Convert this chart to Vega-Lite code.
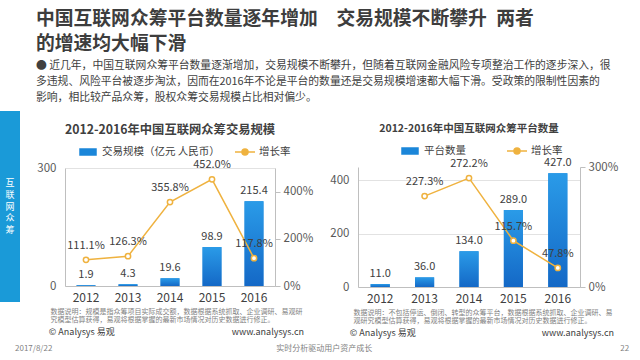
{
  "$schema": "https://vega.github.io/schema/vega-lite/v6.json",
  "background": "white",
  "padding": {"left": 0, "top": 10, "right": 0, "bottom": 0},
  "config": {
    "font": "Noto Sans CJK SC",
    "view": {"stroke": null},
    "axis": {"labelFont": "Noto Sans CJK SC", "titleFont": "Noto Sans CJK SC"},
    "legend": {"labelFont": "Noto Sans CJK SC"}
  },
  "title": {
    "text": ["中国互联网众筹平台数量逐年增加　交易规模不断攀升\u2002两者", "的增速均大幅下滑"],
    "subtitle": [
      "● 近几年，中国互联网众筹平台数量逐渐增加，交易规模不断攀升，但随着互联网金融风险专项整治工作的逐步深入，很",
      "　 多违规、风险平台被逐步淘汰，因而在2016年不论是平台的数量还是交易规模增速都大幅下滑。受政策的限制性因素的",
      "　 影响，相比较产品众筹，股权众筹交易规模占比相对偏少。"
    ],
    "anchor": "start",
    "dx": 36,
    "fontSize": 18.8,
    "fontWeight": "bold",
    "color": "#3d3d3d",
    "lineHeight": 25,
    "subtitleFontSize": 10.8,
    "subtitleColor": "#404040",
    "subtitleLineHeight": 16,
    "subtitlePadding": 6,
    "offset": 8
  },
  "vconcat": [
    {
      "title": {
        "text": "2017/8/22　　　　　　　　　　　　　　　　　　　　　　　　　　　　实时分析驱动用户资产成长　　　　　　　　　　　　　　　　　　　　　　　　　　　　　　　22",
        "orient": "bottom", "anchor": "start", "dx": 15, "fontSize": 8, "fontWeight": "normal", "color": "#7f7f7f", "offset": 7
      },
      "spacing": 16,
      "resolve": {"scale": {"color": "independent"}, "legend": {"color": "independent"}},
      "hconcat": [
        {
          "width": 20,
          "height": 191,
          "view": {"fill": "#1a9ad8", "stroke": null},
          "data": {"values": [
            {"c": "互", "i": 1}, {"c": "联", "i": 2}, {"c": "网", "i": 3}, {"c": "众", "i": 4}, {"c": "筹", "i": 5}
          ]},
          "mark": {"type": "text", "color": "white", "fontSize": 9, "baseline": "middle"},
          "encoding": {
            "y": {"field": "i", "type": "quantitative", "axis": null, "scale": {"domain": [-4.96, 10.96], "reverse": true, "nice": false, "zero": false}},
            "text": {"field": "c", "type": "nominal"}
          }
        },
        {
          "title": {
            "text": "© Analysys 易观　　　　　　　　　　　　　www.analysys.cn",
            "orient": "bottom", "anchor": "start", "dx": 12, "fontSize": 9, "fontWeight": "normal", "color": "#404040", "offset": 5
          },
          "spacing": 12,
          "vconcat": [
            {
              "width": 1, "height": 1,
              "data": {"values": []},
              "mark": {"type": "point"},
              "encoding": {}
            },
            {
              "width": 210,
              "height": 118,
              "title": {"text": "2012-2016年中国互联网众筹交易规模", "fontSize": 12.3, "fontWeight": "bold", "color": "#404040", "offset": 23},
              "data": {"values": [
                {"year": "2012", "v": 1.9, "g": 1.111},
                {"year": "2013", "v": 4.3, "g": 1.263},
                {"year": "2014", "v": 19.6, "g": 3.558},
                {"year": "2015", "v": 98.9, "g": 4.52},
                {"year": "2016", "v": 215.4, "g": 1.178}
              ]},
              "encoding": {
                "x": {
                  "field": "year", "type": "ordinal",
                  "scale": {"paddingInner": 0, "paddingOuter": 0},
                  "axis": {
                    "title": ["数据说明：规模是指众筹项目实际成交额，数据根据系统抓取、企业调研、易观研", "究模型估算获得，易观将根据掌握的最新市场情况对历史数据进行修正。"],
                    "labelAngle": 0, "labelFontSize": 12, "labelColor": "#404040", "labelPadding": 6,
                    "ticks": false, "domainColor": "#bfbfbf",
                    "titleFontSize": 7, "titleFontWeight": "normal", "titleColor": "#7f7f7f",
                    "titleAlign": "left", "titleAnchor": "start", "titleX": -15, "titleY": 21, "titleBaseline": "top", "titleLineHeight": 8.5
                  }
                }
              },
              "layer": [
                {
                  "layer": [
                    {
                      "mark": {"type": "bar", "width": {"band": 0.45}},
                      "encoding": {
                        "y": {"field": "v", "type": "quantitative", "scale": {"domain": [0, 300]},
                          "axis": {"values": [0, 100, 200, 300], "title": null, "grid": true, "gridColor": "#e2e2e2", "domainColor": "#bfbfbf", "ticks": false, "labelPadding": 9, "labelFontSize": 11.5, "labelColor": "#595959"}},
                        "color": {
                          "datum": "交易规模（亿元 人民币）", "type": "nominal",
                          "scale": {"domain": ["交易规模（亿元 人民币）", "增长率"], "range": ["#1b86d9", "#efb23f"]},
                          "legend": {
                            "orient": "none", "legendX": 12, "legendY": 30, "direction": "horizontal", "title": null,
                            "labelFontSize": 10.5, "labelColor": "#404040", "symbolSize": 400, "labelOffset": 3, "columnPadding": 12,
                            "encode": {"symbols": {"update": {
                              "shape": {"signal": "datum.value === '增长率' ? 'M-1,0H-0.3M0.3,0H1M-0.3,0A0.3,0.3 0 1,0 0.3,0A0.3,0.3 0 1,0 -0.3,0' : 'M-0.8,-0.3H0.8V0.3H-0.8Z'"},
                              "fill": {"signal": "datum.value === '增长率' ? '#ffffff' : '#1b86d9'"},
                              "stroke": {"signal": "datum.value === '增长率' ? '#efb23f' : '#1b86d9'"},
                              "strokeWidth": {"value": 1.5},
                              "opacity": {"value": 1}
                            }}}
                          }
                        }
                      }
                    },
                    {
                      "mark": {"type": "bar", "width": {"band": 0.45}, "color": {"gradient": "linear", "x1": 0, "y1": 0, "x2": 0, "y2": 1, "stops": [{"offset": 0, "color": "#2a9be8"}, {"offset": 1, "color": "#1468c6"}]}},
                      "encoding": {"y": {"field": "v", "type": "quantitative"}}
                    },
                    {
                      "mark": {"type": "text", "dy": -10, "fontSize": 11, "color": "#404040"},
                      "encoding": {
                        "y": {"field": "v", "type": "quantitative"},
                        "text": {"field": "v", "type": "quantitative", "format": ".1f"}
                      }
                    }
                  ]
                },
                {
                  "layer": [
                    {
                      "mark": {"type": "line", "strokeWidth": 1.5, "point": {"filled": false, "fill": "white", "size": 28, "strokeWidth": 1.5}},
                      "encoding": {
                        "y": {"field": "g", "type": "quantitative", "scale": {"domain": [0, 5]},
                          "axis": {"orient": "right", "values": [0, 1, 2, 3, 4, 5], "format": ".0%", "title": null, "grid": false, "domainColor": "#bfbfbf", "tickColor": "#bfbfbf", "tickSize": 5, "labelPadding": 3, "labelFontSize": 11.5, "labelColor": "#595959"}},
                        "color": {"datum": "增长率", "type": "nominal"}
                      }
                    },
                    {
                      "mark": {"type": "text", "dy": -14, "fontSize": 11, "color": "#404040"},
                      "encoding": {
                        "y": {"field": "g", "type": "quantitative"},
                        "text": {"field": "g", "type": "quantitative", "format": ".1%"}
                      }
                    }
                  ]
                }
              ],
              "resolve": {"scale": {"y": "independent"}}
            }
          ]
        },
        {
          "title": {
            "text": "© Analysys 易观　　　　　　　　　　　　　　www.analysys.cn",
            "orient": "bottom", "anchor": "start", "dx": 20, "fontSize": 9, "fontWeight": "normal", "color": "#404040", "offset": 5
          },
          "spacing": 11,
          "vconcat": [
            {
              "width": 1, "height": 1,
              "data": {"values": []},
              "mark": {"type": "point"},
              "encoding": {}
            },
            {
              "width": 222,
              "height": 120,
              "title": {"text": "2012-2016年中国互联网众筹平台数量", "fontSize": 10.5, "fontWeight": "bold", "color": "#404040", "offset": 23},
              "data": {"values": [
                {"year": "2012", "v": 11, "g": null},
                {"year": "2013", "v": 36, "g": 2.273},
                {"year": "2014", "v": 134, "g": 2.722},
                {"year": "2015", "v": 289, "g": 1.157},
                {"year": "2016", "v": 427, "g": 0.478}
              ]},
              "encoding": {
                "x": {
                  "field": "year", "type": "ordinal",
                  "scale": {"paddingInner": 0, "paddingOuter": 0},
                  "axis": {
                    "title": ["数据说明：不包括停运、倒闭、转型的众筹平台，数据根据系统抓取、企业调研、易", "观研究模型估算获得，易观将根据掌握的最新市场情况对历史数据进行修正。"],
                    "labelAngle": 0, "labelFontSize": 12, "labelColor": "#404040", "labelPadding": 6,
                    "ticks": false, "domainColor": "#bfbfbf",
                    "titleFontSize": 7, "titleFontWeight": "normal", "titleColor": "#7f7f7f",
                    "titleAlign": "left", "titleAnchor": "start", "titleX": -5, "titleY": 21, "titleBaseline": "top", "titleLineHeight": 8.5
                  }
                }
              },
              "layer": [
                {
                  "layer": [
                    {
                      "mark": {"type": "bar", "width": {"band": 0.43}},
                      "encoding": {
                        "y": {"field": "v", "type": "quantitative", "scale": {"domain": [0, 450]},
                          "axis": {"values": [0, 100, 200, 300, 400], "title": null, "grid": true, "gridColor": "#e2e2e2", "domainColor": "#bfbfbf", "ticks": false, "labelPadding": 9, "labelFontSize": 11.5, "labelColor": "#595959"}},
                        "color": {
                          "datum": "平台数量", "type": "nominal",
                          "scale": {"domain": ["平台数量", "增长率"], "range": ["#1b86d9", "#efb23f"]},
                          "legend": {
                            "orient": "none", "legendX": 41, "legendY": 29, "direction": "horizontal", "title": null,
                            "labelFontSize": 10.5, "labelColor": "#404040", "symbolSize": 400, "labelOffset": 3, "columnPadding": 38,
                            "encode": {"symbols": {"update": {
                              "shape": {"signal": "datum.value === '增长率' ? 'M-1,0H-0.3M0.3,0H1M-0.3,0A0.3,0.3 0 1,0 0.3,0A0.3,0.3 0 1,0 -0.3,0' : 'M-0.8,-0.3H0.8V0.3H-0.8Z'"},
                              "fill": {"signal": "datum.value === '增长率' ? '#ffffff' : '#1b86d9'"},
                              "stroke": {"signal": "datum.value === '增长率' ? '#efb23f' : '#1b86d9'"},
                              "strokeWidth": {"value": 1.5},
                              "opacity": {"value": 1}
                            }}}
                          }
                        }
                      }
                    },
                    {
                      "mark": {"type": "bar", "width": {"band": 0.43}, "color": {"gradient": "linear", "x1": 0, "y1": 0, "x2": 0, "y2": 1, "stops": [{"offset": 0, "color": "#2a9be8"}, {"offset": 1, "color": "#1468c6"}]}},
                      "encoding": {"y": {"field": "v", "type": "quantitative"}}
                    },
                    {
                      "mark": {"type": "text", "dy": -10, "fontSize": 11, "color": "#404040"},
                      "encoding": {
                        "y": {"field": "v", "type": "quantitative"},
                        "text": {"field": "v", "type": "quantitative", "format": ".1f"}
                      }
                    }
                  ]
                },
                {
                  "transform": [{"filter": "datum.g != null"}],
                  "layer": [
                    {
                      "mark": {"type": "line", "strokeWidth": 1.5, "point": {"filled": false, "fill": "white", "size": 28, "strokeWidth": 1.5}},
                      "encoding": {
                        "y": {"field": "g", "type": "quantitative", "scale": {"domain": [0, 3]},
                          "axis": {"orient": "right", "values": [0, 0.5, 1, 1.5, 2, 2.5, 3], "format": ".0%", "title": null, "grid": false, "domainColor": "#bfbfbf", "tickColor": "#bfbfbf", "tickSize": 5, "labelPadding": 3, "labelFontSize": 11.5, "labelColor": "#595959"}},
                        "color": {"datum": "增长率", "type": "nominal"}
                      }
                    },
                    {
                      "mark": {"type": "text", "dy": -14, "fontSize": 11, "color": "#404040"},
                      "encoding": {
                        "y": {"field": "g", "type": "quantitative"},
                        "text": {"field": "g", "type": "quantitative", "format": ".1%"}
                      }
                    }
                  ]
                }
              ],
              "resolve": {"scale": {"y": "independent"}}
            }
          ]
        }
      ]
    }
  ]
}
